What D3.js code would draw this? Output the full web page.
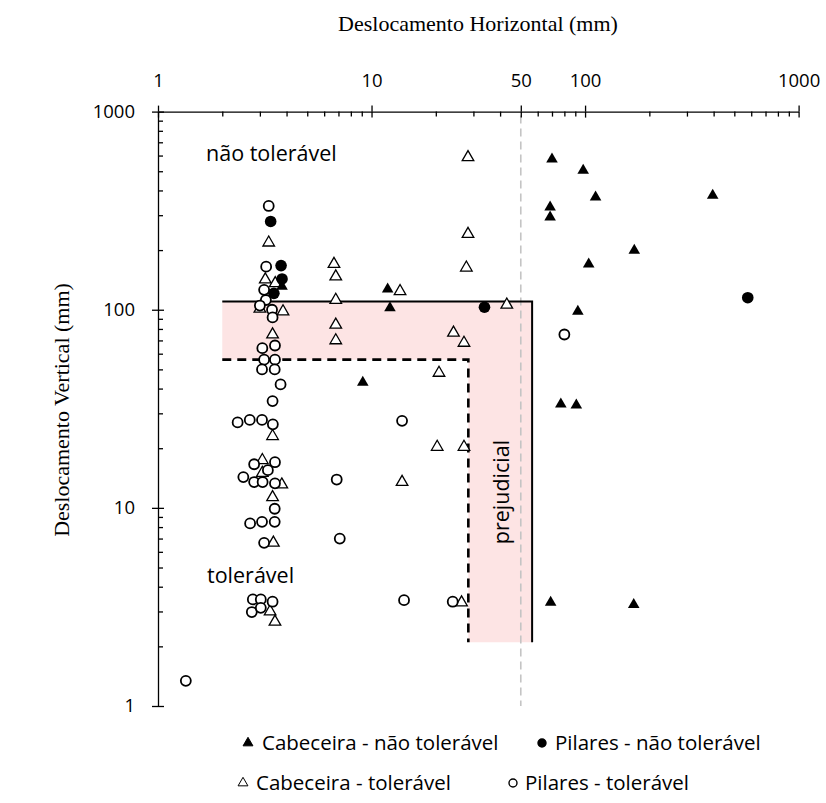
<!DOCTYPE html>
<html>
<head>
<meta charset="utf-8">
<script src="https://cdnjs.cloudflare.com/ajax/libs/d3/7.8.5/d3.min.js"></script>
<style>
  body { margin: 0; background: #fff; }
  svg { display: block; }
  .tick text { font-family: "Open Sans", sans-serif; font-size: 18.5px; fill: #000; }
  .tick line, .domain { stroke: #000; stroke-width: 1.3px; }
</style>
</head>
<body>
<div id="chart"></div>
<script>
// values (mm)
const cabNaoTol = [[70,575],[98,505],[112,370],[396,378],[68.6,329],[68.6,293],[170,199],[104,170],[92.5,98],[11.9,127],[12.2,102],[3.81,131],[9.1,43],[77,33.4],[91,33],[69,3.33],[169,3.25]];
const pilNaoTol = [[3.37,279],[3.77,167],[3.81,143],[3.49,121],[33.8,103],[578,115]];
const cabTol = [[28.3,588],[28.3,241],[27.8,163],[13.6,124],[43,106],[24.2,76.5],[27.1,68],[20.7,48],[20.3,20.3],[27.1,20.3],[13.9,13.5],[26.4,3.33],
  [6.67,170],[6.8,147],[6.8,112],[6.8,84],[6.8,70],[3.3,218],[3.18,142],[3.54,136],[3.85,98],[3.0,101],[3.44,75],[3.44,23],[3.08,17.4],[3.08,15],
  [3.8,13.1],[3.44,11.3],[3.47,6.66],[3.35,3.0],[3.53,2.66]];
const pilTol = [[3.3,334],[3.21,165],[3.14,126],[3.2,112],[3.0,105],[3.42,100],[3.44,91.5],[3.08,64],[3.53,66],[3.14,56],[3.53,56],[3.07,50],[3.52,50],
  [3.75,42],[3.44,34.6],[2.36,27],[2.69,27.8],[3.07,27.8],[3.45,26.4],[2.82,16.6],[3.53,17],[3.27,15.5],[2.51,14.3],[2.82,13.5],[3.09,13.5],[3.53,13.3],
  [3.52,9.9],[2.7,8.35],[3.07,8.5],[3.52,8.5],[3.14,6.66],[2.78,3.45],[3.03,3.45],[3.44,3.36],[2.75,2.98],[3.03,3.13],[6.87,13.9],[7.1,7.0],
  [13.9,27.5],[14.2,3.42],[24,3.36],[80,75],[1.35,1.34]];

// limits: dashed = tolerável, solid = não tolerável
const limiteTol = [[2,56],[28.4,56],[28.4,2.1]];
const limiteNaoTol = [[2,110],[56.5,110],[56.5,2.1]];
const refX = 50;

const xTicks = [1, 10, 50, 100, 1000];
const yTicks = [1, 10, 100, 1000];

const W = 826, H = 803;
const svg = d3.select('#chart').append('svg').attr('width', W).attr('height', H);

const x = d3.scaleLog().domain([1, 1000]).range([158, 798.6]);
const y = d3.scaleLog().domain([1, 1000]).range([706, 111.6]);

const minorX = x.ticks().filter(v => !xTicks.includes(v));
const minorY = y.ticks().filter(v => !yTicks.includes(v));

// shaded "prejudicial" band
const band = limiteNaoTol.concat(limiteTol.slice().reverse());
svg.append('path').attr('d', d3.line().x(d => x(d[0])).y(d => y(d[1]))(band) + 'Z')
  .attr('fill', '#fde4e4');

// reference line at 50 mm
svg.append('line').attr('x1', x(refX)).attr('x2', x(refX)).attr('y1', y(1000) + 4).attr('y2', y(1))
  .attr('stroke', '#c4c4c4').attr('stroke-width', 1.6).attr('stroke-dasharray', '8,5');

const line = d3.line().x(d => x(d[0])).y(d => y(d[1]));
svg.append('path').attr('d', line(limiteNaoTol)).attr('fill', 'none').attr('stroke', '#000').attr('stroke-width', 2);
svg.append('path').attr('d', line(limiteTol)).attr('fill', 'none').attr('stroke', '#000').attr('stroke-width', 2.6)
  .attr('stroke-dasharray', '9,6');

// x axis (top)
const xg = svg.append('g').attr('transform', `translate(0,${y(1000)})`);
xg.append('g').call(d3.axisBottom(x).tickValues(minorX).tickSize(5).tickFormat('').tickSizeOuter(0)).select('.domain').remove();
xg.append('g').call(d3.axisBottom(x).tickValues(xTicks).tickSize(6).tickFormat('').tickSizeOuter(0)).select('.domain').remove();
xg.append('g').call(d3.axisTop(x).tickValues(xTicks).tickSize(6).tickPadding(18.5).tickFormat(d3.format('d')).tickSizeOuter(0));

// y axis (left)
const yg = svg.append('g').attr('transform', `translate(${x(1)},0)`);
yg.append('g').call(d3.axisRight(y).tickValues(minorY).tickSize(5).tickFormat('').tickSizeOuter(0)).select('.domain').remove();
yg.append('g').call(d3.axisRight(y).tickValues(yTicks).tickSize(6).tickFormat('').tickSizeOuter(0)).select('.domain').remove();
yg.append('g').call(d3.axisLeft(y).tickValues(yTicks).tickSize(6).tickPadding(17).tickFormat(d3.format('d')).tickSizeOuter(0));

// titles
svg.append('text').attr('x', 478).attr('y', 31).attr('text-anchor', 'middle')
  .style('font-family', '"Liberation Serif", "Times New Roman", serif').style('font-size', '22px')
  .text('Deslocamento Horizontal (mm)');
svg.append('text').attr('transform', 'translate(69,410) rotate(-90)').attr('text-anchor', 'middle')
  .style('font-family', '"Liberation Serif", "Times New Roman", serif').style('font-size', '22px')
  .text('Deslocamento Vertical (mm)');

// zone labels
const zoneFont = '"Open Sans", sans-serif';
svg.append('text').attr('x', 206).attr('y', 161).style('font-family', zoneFont).style('font-size', '21.5px').text('não tolerável');
svg.append('text').attr('x', 207).attr('y', 583).style('font-family', zoneFont).style('font-size', '21.5px').text('tolerável');
svg.append('text').attr('transform', 'translate(509,492) rotate(-90)').attr('text-anchor', 'middle')
  .style('font-family', zoneFont).style('font-size', '21.5px').text('prejudicial');

// markers
const tri = d3.symbol().type(d3.symbolTriangle).size(58);
const triSmall = d3.symbol().type(d3.symbolTriangle).size(42);

svg.append('g').selectAll('path').data(cabTol).join('path')
  .attr('d', tri).attr('transform', d => `translate(${x(d[0])},${y(d[1])})`)
  .attr('fill', '#fff').attr('stroke', '#000').attr('stroke-width', 1.3);
svg.append('g').selectAll('circle').data(pilTol).join('circle')
  .attr('cx', d => x(d[0])).attr('cy', d => y(d[1])).attr('r', 5)
  .attr('fill', '#fff').attr('stroke', '#000').attr('stroke-width', 1.8);
svg.append('g').selectAll('path').data(cabNaoTol).join('path')
  .attr('d', tri).attr('transform', d => `translate(${x(d[0])},${y(d[1])})`)
  .attr('fill', '#000');
svg.append('g').selectAll('circle').data(pilNaoTol).join('circle')
  .attr('cx', d => x(d[0])).attr('cy', d => y(d[1])).attr('r', 5.8)
  .attr('fill', '#000');

// legend
const legendItems = [
  {label: 'Cabeceira - não tolerável', shape: 'tri', fill: '#000', sx: 248, tx: 262, y: 743},
  {label: 'Pilares - não tolerável', shape: 'circ', fill: '#000', sx: 542, tx: 555, y: 743},
  {label: 'Cabeceira - tolerável', shape: 'tri', fill: '#fff', sx: 243, tx: 256, y: 783},
  {label: 'Pilares - tolerável', shape: 'circ', fill: '#fff', sx: 513, tx: 525, y: 783}
];
const lg = svg.append('g');
legendItems.forEach(it => {
  if (it.shape === 'tri') {
    lg.append('path').attr('d', triSmall).attr('transform', `translate(${it.sx},${it.y})`)
      .attr('fill', it.fill).attr('stroke', '#000').attr('stroke-width', 1);
  } else {
    lg.append('circle').attr('cx', it.sx).attr('cy', it.y).attr('r', 4)
      .attr('fill', it.fill).attr('stroke', '#000').attr('stroke-width', 1.4);
  }
  lg.append('text').attr('x', it.tx).attr('y', it.y).attr('dy', '0.35em')
    .style('font-family', zoneFont).style('font-size', '20.5px').text(it.label);
});
</script>
</body>
</html>
